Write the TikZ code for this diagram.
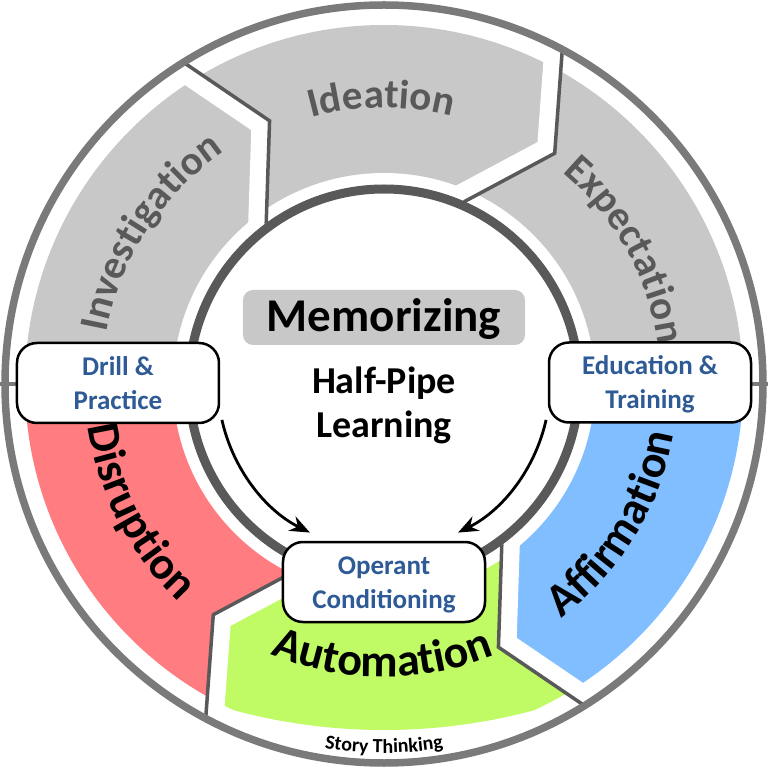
\documentclass[tikz,border=0pt]{standalone}
\usepackage{fontspec}
\setmainfont{Carlito}
\usetikzlibrary{calc,decorations.text,arrows.meta}

\definecolor{ringgray}{RGB}{122,122,122}
\definecolor{darkline}{RGB}{89,89,89}
\definecolor{seggray}{RGB}{200,200,200}
\definecolor{segred}{RGB}{255,124,128}
\definecolor{seggreen}{RGB}{192,250,100}
\definecolor{segblue}{RGB}{128,190,255}
\definecolor{labgray}{RGB}{89,89,89}
\definecolor{boxblue}{RGB}{46,90,150}

\newcommand\chevpts[2]{%
  \coordinate (#1o) at ({#2+8.3}:377);
  \coordinate (#1m) at ({#2}:287);
  \coordinate (#1i) at ({#2+12.8}:199);
  \coordinate (#1f) at ({#2+8.3}:650);}
\newcommand\graylab{\fontsize{41}{41}\selectfont\bfseries\color{labgray}}
\newcommand\blacklab{\fontsize{46}{46}\selectfont\bfseries\color{black}}
\newcommand\smalllab{\fontsize{20}{20}\selectfont\bfseries\color{black}}
\newcommand\bstrut{\rule[-6pt]{0pt}{31pt}}

\tikzset{
  notchline/.style={draw=darkline, line width=3.5, line join=miter},
  gapband/.style={draw=white, line width=36, line join=miter},
  infobox/.style={draw=black, line width=2.5, fill=white, rounded corners=20,
    minimum width=202, minimum height=80, align=center, text=boxblue,
    font=\fontsize{27}{34}\selectfont\bfseries},
  memobox/.style={fill=seggray, rounded corners=10, minimum width=282,
    minimum height=55, text height=38, text depth=9,
    font=\fontsize{47}{47}\selectfont\bfseries},
  flowarrow/.style={draw=black, line width=2.8, -{Stealth[length=20, width=16]}},
  arclabel/.style={decorate, decoration={text along path, text align=center, text={#1}}}
}

\begin{document}
\begin{tikzpicture}[x=1pt,y=1pt]
\useasboundingbox (-384,-384) rectangle (384,384);

\chevpts{A}{113.5}
\chevpts{B}{53.5}
\chevpts{C}{-66.5}
\chevpts{D}{-126.5}

% horizontal divider
\draw[ringgray, line width=4] (-384,0) -- (384,0);

% --- top half ---
\begin{scope}
  \clip (0,0) circle (359);
  \fill[seggray] (0,0) -- (-700,0) -- (-700,700) -- (Af) -- (Ao) -- (Am) -- (Ai) -- cycle;
\end{scope}
\draw[gapband] ($(Am)!1.25!(Ao)$) -- (Am) -- ($(Am)!1.25!(Ai)$);
\begin{scope}
  \clip (0,0) circle (359);
  \fill[seggray] (0,0) -- (Ai) -- (Am) -- (Ao) -- (Af) -- (90:700) -- (Bf) -- (Bo) -- (Bm) -- (Bi) -- cycle;
\end{scope}
\draw[gapband] ($(Bm)!1.25!(Bo)$) -- (Bm) -- ($(Bm)!1.25!(Bi)$);
\begin{scope}
  \clip (0,0) circle (359);
  \fill[seggray] (0,0) -- (Bi) -- (Bm) -- (Bo) -- (Bf) -- (700,700) -- (700,0) -- cycle;
\end{scope}

% --- bottom half ---
\begin{scope}
  \clip (0,0) circle (359);
  \fill[segblue] (0,0) -- (700,0) -- (700,-700) -- (Cf) -- (Co) -- (Cm) -- (Ci) -- cycle;
\end{scope}
\draw[gapband] ($(Cm)!1.25!(Co)$) -- (Cm) -- ($(Cm)!1.25!(Ci)$);
\begin{scope}
  \clip (0,0) circle (359);
  \clip (0,230) circle (576);
  \fill[seggreen] (0,0) -- (Ci) -- (Cm) -- (Co) -- (Cf) -- (-90:700) -- (Df) -- (Do) -- (Dm) -- (Di) -- cycle;
\end{scope}
\draw[gapband] ($(Dm)!1.25!(Do)$) -- (Dm) -- ($(Dm)!1.25!(Di)$);
\begin{scope}
  \clip (0,0) circle (359);
  \fill[segred] (0,0) -- (Di) -- (Dm) -- (Do) -- (Df) -- (-700,-700) -- (-700,0) -- cycle;
\end{scope}

% inner white gap
\fill[white] (0,0) circle (211);

% notch outlines
\draw[notchline] (Ao) -- (Am) -- (Ai);
\draw[notchline] (Bo) -- (Bm) -- (Bi);
\draw[notchline] (Co) -- (Cm) -- (Ci);
\draw[notchline] (Do) -- (Dm) -- (Di);

% rings
\draw[darkline, line width=9] (0,0) circle (195);
\draw[ringgray, line width=7.5] (0,0) circle (379);

% segment labels
\path[arclabel={|\graylab|Investigation}] (177:282) arc[start angle=177, end angle=117, radius=282];
\path[arclabel={|\graylab|Ideation}] (120.5:276) arc[start angle=120.5, end angle=60.5, radius=276];
\path[arclabel={|\graylab|Expectation}] (59:277) arc[start angle=59, end angle=-1, radius=277];
\path[arclabel={|\blacklab|Disruption}] (177.5:299) arc[start angle=177.5, end angle=237.5, radius=299];
\path[arclabel={|\blacklab|Automation}] (-120.3:293) arc[start angle=-120.3, end angle=-60.3, radius=293];
\path[arclabel={|\blacklab|Affirmation}] (-61.4:294) arc[start angle=-61.4, end angle=-1.4, radius=294];
\path[arclabel={|\smalllab|Story Thinking}] (-115:369) arc[start angle=-115, end angle=-65, radius=369];

% arrows
\coordinate (la) at (192.5:166);
\coordinate (ra) at (-12.5:166);
\draw[flowarrow] (la) arc[start angle=192.5, end angle=243.5, radius=166];
\draw[flowarrow] (ra) arc[start angle=-12.5, end angle=-63.5, radius=166];

% boxes
\node[infobox] (drill) at (-266,1) {\bstrut Drill \&\\\bstrut Practice};
\node[infobox] (edu) at (266,1.5) {\bstrut Education \&\\\bstrut Training};
\node[infobox] (operant) at (0,-198) {\bstrut Operant\\\bstrut Conditioning};

\node[memobox] (memo) at (0,66.5) {Memorizing};
\node[align=center, font=\fontsize{38}{44}\selectfont\bfseries] (hp) at (0,-21.5) {Half-Pipe\\Learning};
\end{tikzpicture}
\end{document}
